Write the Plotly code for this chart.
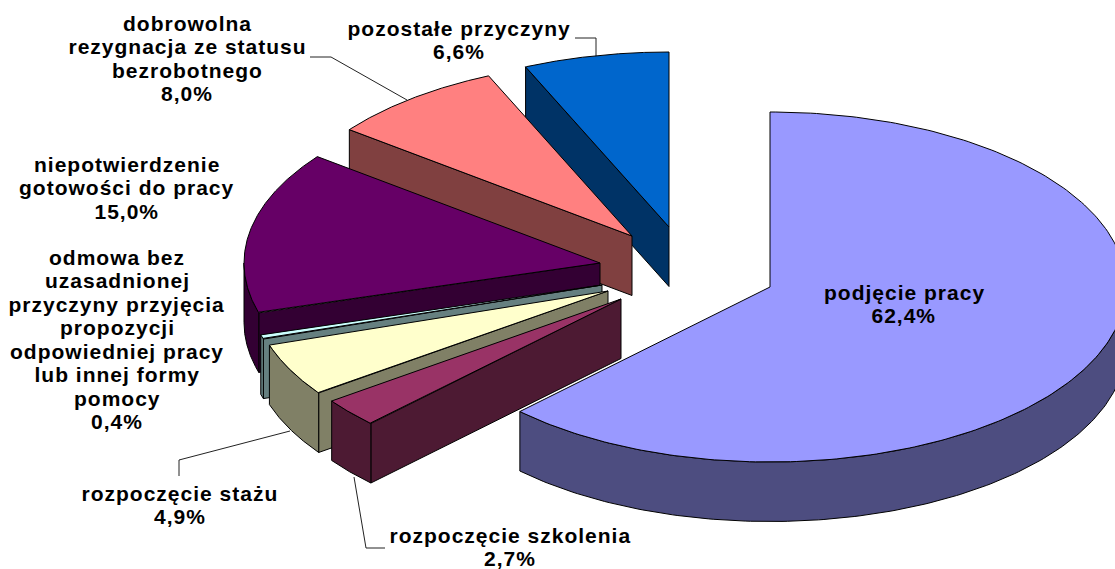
import numpy as np
import plotly.graph_objects as go

# ---- data ----
categories = ["podjęcie pracy", "rozpoczęcie szkolenia", "rozpoczęcie stażu",
              "odmowa bez uzasadnionej przyczyny przyjęcia propozycji odpowiedniej pracy lub innej formy pomocy",
              "niepotwierdzenie gotowości do pracy",
              "dobrowolna rezygnacja ze statusu bezrobotnego", "pozostałe przyczyny"]
values = [62.4, 2.7, 4.9, 0.4, 15.0, 8.0, 6.6]
label_lines = [["podjęcie pracy"], ["rozpoczęcie szkolenia"], ["rozpoczęcie stażu"],
               ["odmowa bez", "uzasadnionej", "przyczyny przyjęcia", "propozycji",
                "odpowiedniej pracy", "lub innej formy", "pomocy"],
               ["niepotwierdzenie", "gotowości do pracy"],
               ["dobrowolna", "rezygnacja ze statusu", "bezrobotnego"],
               ["pozostałe przyczyny"]]

# ---- style / layout ----
W, H = 1115, 569
top_colors = ["#9999FF", "#993366", "#FFFFCC", "#CCFFFF", "#660066", "#FF8080", "#0066CC"]
side_colors = ["#4D4D80", "#4D1A33", "#808066", "#668080", "#330033", "#804040", "#003366"]
apex_x = [770, 621, 608, 602, 600, 632, 669]
apex_y = [287, 299, 291, 285, 263, 236, 227]
label_x = [904, 510, 180, 117, 127, 187, 459]
label_first_y = [292, 535, 493, 257, 164, 23, 28]
LINE_STEP = 23.5
leaders = [([310, 331, 407], [57, 57, 100]),
           ([575, 596, 596], [38, 38, 57]),
           ([179, 179, 290], [476, 460, 431]),
           ([354, 366, 385], [477, 548, 548])]
RX, RY, DEPTH = 356, 175, 59.5
FONT = dict(family="Liberation Sans", size=21, color="#000000", weight="bold")

fig = go.Figure()


def poly(xs, ys, color):
    fig.add_trace(go.Scatter(x=list(xs) + [xs[0]], y=list(ys) + [ys[0]], mode="lines",
                             fill="toself", fillcolor=color,
                             line=dict(color="#000000", width=1),
                             hoverinfo="skip", showlegend=False))


for x0, y0 in leaders:
    fig.add_trace(go.Scatter(x=x0, y=y0, mode="lines", line=dict(color="#222222", width=1),
                             hoverinfo="skip", showlegend=False))

edges = np.concatenate([[0], np.cumsum(values)]) / sum(values) * 2 * np.pi
order = [6, 5, 4, 3, 2, 1, 0]  # painter's order, back to front
for i in order:
    t0, t1 = edges[i], edges[i + 1]
    cx, cy = apex_x[i], apex_y[i]
    ex = lambda t: cx + RX * np.sin(t)
    ey = lambda t: cy - RY * np.cos(t)
    # cut face at the start of the slice
    if np.sin(t0) < -1e-6:
        poly([cx, ex(t0), ex(t0), cx], [cy, ey(t0), ey(t0) + DEPTH, cy + DEPTH], side_colors[i])
    # outer wall: only the part facing the viewer
    a, b = max(t0, np.pi / 2), min(t1, 3 * np.pi / 2)
    if b > a:
        ts = np.linspace(a, b, 160)
        poly(list(ex(ts)) + list(ex(ts[::-1])),
             list(ey(ts)) + list(ey(ts[::-1]) + DEPTH), side_colors[i])
    # top face
    ts = np.linspace(t0, t1, 240)
    poly([cx] + list(ex(ts)), [cy] + list(ey(ts)), top_colors[i])

for i, lines in enumerate(label_lines):
    pct = f"{values[i]:.1f}%".replace(".", ",")
    for k, line in enumerate(lines + [pct]):
        fig.add_annotation(x=label_x[i], y=label_first_y[i] + k * LINE_STEP, text=line,
                           showarrow=False, align="center", font=FONT,
                           xanchor="center", yanchor="middle")

fig.update_layout(width=W, height=H, margin=dict(l=0, r=0, t=0, b=0),
                  paper_bgcolor="white", plot_bgcolor="white", showlegend=False,
                  xaxis=dict(range=[0, W], visible=False, fixedrange=True),
                  yaxis=dict(range=[H, 0], visible=False, fixedrange=True))
fig.write_html("out.html", config=dict(displayModeBar=False),
               post_script="document.body.style.margin='0';document.body.style.overflow='hidden';"
                           "var s=document.createElement('style');"
                           "s.textContent='.annotation-text{letter-spacing:1px}';"
                           "document.head.appendChild(s);")
